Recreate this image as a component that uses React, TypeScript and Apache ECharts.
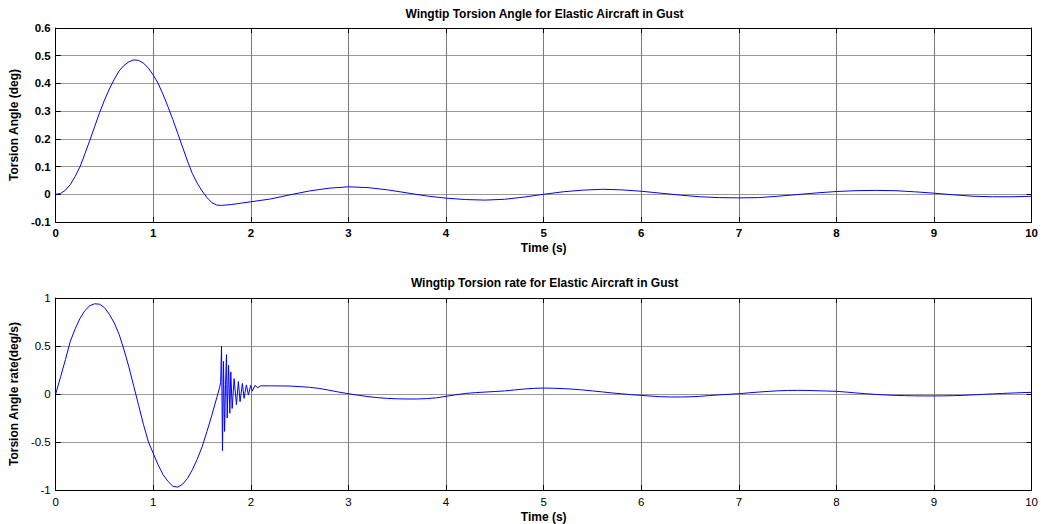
import React, { useEffect, useRef } from "react";
import * as echarts from "echarts";

const xTicks = [0, 1, 2, 3, 4, 5, 6, 7, 8, 9, 10];

const angleT = [
  0, 0.05, 0.1, 0.15, 0.2, 0.25, 0.3, 0.35, 0.4, 0.45, 0.5, 0.55, 0.6, 0.65, 0.7, 0.75, 0.8, 0.85, 0.9, 0.95,
  1.0, 1.05, 1.1, 1.15, 1.2, 1.25, 1.3, 1.35, 1.4, 1.45, 1.5, 1.55, 1.6, 1.65, 1.7, 1.8, 1.9, 2.0,
  2.2, 2.4, 2.6, 2.8, 3.0, 3.2, 3.4, 3.6, 3.8, 4.0, 4.2, 4.4, 4.6, 4.8, 5.0, 5.2, 5.4, 5.6, 5.8, 6.0,
  6.2, 6.4, 6.6, 6.8, 7.0, 7.2, 7.4, 7.6, 7.8, 8.0, 8.2, 8.4, 8.6, 8.8, 9.0, 9.2, 9.4, 9.6, 9.8, 10.0,
];
const angleV = [
  0, 0.003, 0.015, 0.035, 0.065, 0.1, 0.147, 0.195, 0.245, 0.295, 0.34, 0.38, 0.415, 0.445, 0.465, 0.478, 0.485, 0.483, 0.473, 0.455,
  0.43, 0.4, 0.36, 0.316, 0.27, 0.22, 0.17, 0.12, 0.075, 0.04, 0.012, -0.012, -0.03, -0.039, -0.04, -0.037, -0.032, -0.027,
  -0.017, -0.002, 0.012, 0.022, 0.027, 0.024, 0.016, 0.005, -0.006, -0.014, -0.019, -0.021, -0.018, -0.01, 0.0, 0.009, 0.015, 0.018, 0.016, 0.011,
  0.004, -0.003, -0.009, -0.012, -0.013, -0.012, -0.007, -0.001, 0.005, 0.01, 0.013, 0.014, 0.013, 0.009, 0.004, -0.002, -0.007, -0.009, -0.009, -0.007,
];

const rateT = [
  0, 0.05, 0.1, 0.15, 0.2, 0.25, 0.3, 0.35, 0.4, 0.45, 0.5, 0.55, 0.6, 0.65, 0.7, 0.75, 0.8, 0.85, 0.9, 0.95,
  1.0, 1.05, 1.1, 1.15, 1.2, 1.25, 1.3, 1.35, 1.4, 1.45, 1.5, 1.55, 1.6, 1.65, 1.68, 1.69,
  1.699, 1.709, 1.719, 1.73, 1.74, 1.75, 1.757, 1.771, 1.784, 1.794, 1.808, 1.828, 1.852, 1.872, 1.889, 1.913, 1.93, 1.954, 1.974, 1.998, 2.015, 2.042, 2.07,
  2.1, 2.2, 2.4, 2.6, 2.7, 2.8, 2.9, 3.0, 3.1, 3.2, 3.3, 3.4, 3.5, 3.6, 3.7, 3.8, 3.9, 4.0,
  4.1, 4.2, 4.3, 4.4, 4.5, 4.6, 4.7, 4.8, 4.9, 5.0, 5.1, 5.2, 5.3, 5.4, 5.5, 5.6, 5.7, 5.8, 5.9, 6.0,
  6.1, 6.2, 6.3, 6.4, 6.5, 6.6, 6.7, 6.8, 6.9, 7.0, 7.1, 7.2, 7.3, 7.4, 7.5, 7.6, 7.7, 7.8, 7.9, 8.0,
  8.1, 8.2, 8.3, 8.4, 8.5, 8.6, 8.7, 8.8, 8.9, 9.0, 9.1, 9.2, 9.3, 9.4, 9.5, 9.6, 9.7, 9.8, 9.9, 10.0,
];
const rateV = [
  0, 0.18, 0.36, 0.55, 0.68, 0.79, 0.87, 0.92, 0.94, 0.935, 0.9, 0.83, 0.74, 0.62, 0.46, 0.28, 0.08, -0.12, -0.32, -0.5,
  -0.62, -0.74, -0.84, -0.91, -0.96, -0.97, -0.94, -0.88, -0.79, -0.68, -0.55, -0.39, -0.22, -0.04, 0.07, 0.12,
  0.5, -0.59, 0.34, -0.39, 0.1, 0.41, -0.25, 0.3, -0.2, 0.23, -0.15, 0.16, -0.11, 0.13, -0.08, 0.11, -0.045, 0.095, -0.01, 0.09, 0.03, 0.09, 0.065,
  0.085, 0.085, 0.083, 0.07, 0.058, 0.04, 0.02, 0.003, -0.013, -0.027, -0.038, -0.046, -0.05, -0.052, -0.052, -0.048, -0.04, -0.024,
  -0.008, 0.006, 0.014, 0.02, 0.026, 0.032, 0.042, 0.052, 0.059, 0.062, 0.06, 0.056, 0.05, 0.042, 0.032, 0.022, 0.011, 0.002, -0.007, -0.014,
  -0.022, -0.028, -0.031, -0.031, -0.029, -0.024, -0.016, -0.009, -0.003, 0.003, 0.012, 0.02, 0.027, 0.033, 0.037, 0.038, 0.037, 0.034, 0.031, 0.028,
  0.02, 0.011, 0.003, -0.004, -0.01, -0.014, -0.017, -0.019, -0.02, -0.02, -0.019, -0.017, -0.014, -0.009, -0.004, 0.001, 0.006, 0.01, 0.014, 0.017,
];

const titleTop = "Wingtip Torsion Angle for Elastic Aircraft in Gust";
const titleBottom = "Wingtip Torsion rate for Elastic Aircraft in Gust";
const xName = "Time (s)";
const yNameTop = "Torsion Angle (deg)";
const yNameBottom = "Torsion Angle rate(deg/s)";

const FONT = "'Liberation Sans', Arial, Helvetica, sans-serif";

export default function App() {
  const ref = useRef<HTMLDivElement>(null);
  useEffect(() => {
    if (!ref.current) return;
    const chart = echarts.init(ref.current, null, { renderer: "svg" });
    const black = "#000";
    const vGrid = { show: true, lineStyle: { color: "#7a7a7a", width: 1 } };
    const hGrid = { show: true, lineStyle: { color: "#9a9a9a", width: 1 } };
    const tick = { show: true, inside: true, length: 5, lineStyle: { color: black, width: 1 } };
    const axLine = { show: true, onZero: false, lineStyle: { color: black, width: 1 } };

    const mkX = (gi: number, bold: boolean, gap: number, margin: number) => [
      {
        type: "value",
        gridIndex: gi,
        min: xTicks[0],
        max: xTicks[xTicks.length - 1],
        interval: 1,
        position: "bottom",
        name: xName,
        nameLocation: "middle",
        nameGap: gap,
        nameTextStyle: { color: black, fontFamily: FONT, fontSize: 12, fontWeight: "bold" },
        axisLine: axLine,
        axisTick: tick,
        splitLine: vGrid,
        axisLabel: { color: black, fontFamily: FONT, fontSize: 11.5, fontWeight: bold ? "bold" : "normal", margin },
      },
      {
        type: "value",
        gridIndex: gi,
        min: xTicks[0],
        max: xTicks[xTicks.length - 1],
        interval: 1,
        position: "top",
        axisLine: axLine,
        axisTick: tick,
        splitLine: { show: false },
        axisLabel: { show: false },
      },
    ];
    const mkY = (gi: number, min: number, max: number, interval: number, name: string, bold: boolean) => [
      {
        type: "value",
        gridIndex: gi,
        min,
        max,
        interval,
        position: "left",
        name,
        nameLocation: "middle",
        nameGap: 33,
        nameTextStyle: { color: black, fontFamily: FONT, fontSize: 12, fontWeight: "bold" },
        axisLine: axLine,
        axisTick: tick,
        splitLine: hGrid,
        axisLabel: { color: black, fontFamily: FONT, fontSize: 11.5, fontWeight: bold ? "bold" : "normal", margin: 5 },
      },
      {
        type: "value",
        gridIndex: gi,
        min,
        max,
        interval,
        position: "right",
        axisLine: axLine,
        axisTick: tick,
        splitLine: { show: false },
        axisLabel: { show: false },
      },
    ];

    chart.setOption({
      animation: false,
      backgroundColor: "#fff",
      title: [
        {
          text: titleTop,
          left: 544.5,
          top: 8,
          textAlign: "center",
          padding: 0,
          textStyle: { color: black, fontFamily: FONT, fontSize: 12, fontWeight: "bold" },
        },
        {
          text: titleBottom,
          left: 544.5,
          top: 277,
          textAlign: "center",
          padding: 0,
          textStyle: { color: black, fontFamily: FONT, fontSize: 12, fontWeight: "bold" },
        },
      ],
      grid: [
        { left: 54, right: 6, top: 28, height: 194 },
        { left: 54, right: 6, top: 298, height: 192 },
      ],
      xAxis: [...mkX(0, true, 20, 5), ...mkX(1, false, 21, 6)],
      yAxis: [...mkY(0, -0.1, 0.6, 0.1, yNameTop, true), ...mkY(1, -1, 1, 0.5, yNameBottom, false)],
      series: [
        {
          type: "line",
          xAxisIndex: 0,
          yAxisIndex: 0,
          showSymbol: false,
          symbol: "none",
          lineStyle: { color: "#0000ff", width: 1 },
          data: angleT.map((t, i) => [t, angleV[i]]),
        },
        {
          type: "line",
          xAxisIndex: 2,
          yAxisIndex: 2,
          showSymbol: false,
          symbol: "none",
          lineStyle: { color: "#0000ff", width: 1 },
          data: rateT.map((t, i) => [t, rateV[i]]),
        },
      ],
    });
    return () => chart.dispose();
  }, []);
  return (
    <div
      ref={ref}
      style={{ position: "fixed", left: 0, top: 0, width: 1041, height: 524, background: "#fff" }}
    />
  );
}
